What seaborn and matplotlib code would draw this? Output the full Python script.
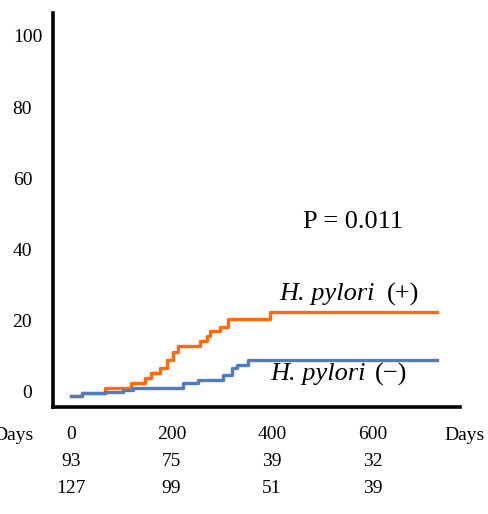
import matplotlib
matplotlib.use("Agg")
import matplotlib.pyplot as plt
import seaborn as sns
import pandas as pd

# cumulative incidence (%) step curves
pos_days = [0, 21, 67, 120, 147, 160, 177, 190, 203, 213, 257, 270, 277, 297, 312, 396, 728]
pos_pct = [-1.3, -0.5, 1.0, 2.3, 3.6, 5.0, 6.4, 8.8, 11.1, 12.8, 14.0, 15.5, 17.0, 18.2, 20.3, 22.2, 22.2]

neg_days = [0, 21, 67, 104, 124, 223, 253, 303, 320, 330, 352, 728]
neg_pct = [-1.3, -0.5, -0.2, 0.3, 0.8, 2.2, 3.1, 4.5, 6.5, 7.3, 8.9, 8.9]

x_ticks = [0, 200, 400, 600]
y_ticks = [0, 20, 40, 60, 80, 100]
at_risk_pos = [93, 75, 39, 32]
at_risk_neg = [127, 99, 51, 39]

df = pd.concat([
    pd.DataFrame({"day": pos_days, "pct": pos_pct, "group": "pos"}),
    pd.DataFrame({"day": neg_days, "pct": neg_pct, "group": "neg"}),
])

plt.rcParams["font.family"] = ["Liberation Serif", "DejaVu Serif"]

fig = plt.figure(figsize=(4.89, 5.14), dpi=100)
ax = fig.add_axes([0.1084, 0.2082, 0.8323, 0.7665])

sns.lineplot(data=df, x="day", y="pct", hue="group",
    palette={"pos": "#FF6A0D", "neg": "#4F7BC4"},
    drawstyle="steps-post", estimator=None, sort=False,
    linewidth=2.4, legend=False, ax=ax)

ax.set_xlim(-36, 774)
ax.set_ylim(-4.5, 106.8)
ax.set_xticks(x_ticks)
ax.set_yticks(y_ticks)
ax.set_xticklabels([str(v) for v in x_ticks], fontsize=14)
# the top label sits a little off the others, drawn separately below
ax.set_yticklabels([str(v) for v in y_ticks[:-1]] + [""], fontsize=14)
ax.tick_params(axis="x", length=0, pad=14)
ax.tick_params(axis="y", length=0, pad=15)
ax.set_xlabel("")
ax.set_ylabel("")

for side in ["top", "right"]:
    ax.spines[side].set_visible(False)
for side in ["left", "bottom"]:
    ax.spines[side].set_linewidth(2.6)
    ax.spines[side].set_color("black")

fig.text(28 / 489, 1 - 38 / 514, str(y_ticks[-1]), fontsize=14, ha="center", va="center")

ax.text(561, 47.8, "P = 0.011", fontsize=19, ha="center", va="center")
ax.text(605, 27.4, "H. pylori", fontsize=19, style="italic", ha="right", va="center")
ax.text(629, 27.4, "(+)", fontsize=19, ha="left", va="center")
ax.text(586, 4.7, "H. pylori", fontsize=19, style="italic", ha="right", va="center")
ax.text(604, 4.7, "(\u2212)", fontsize=19, ha="left", va="center")

# "Days" labels on both ends of the x tick row
fig.text(14 / 489, 1 - 435 / 514, "Days", fontsize=14, ha="center", va="center")
fig.text(465 / 489, 1 - 435 / 514, "Days", fontsize=14, ha="center", va="center")

# numbers at risk below the axis
trans = ax.get_xaxis_transform()
for x, a, b in zip(x_ticks, at_risk_pos, at_risk_neg):
    ax.text(x, -(462 - 407) / 394, str(a), transform=trans, fontsize=14,
        ha="center", va="center", clip_on=False)
    ax.text(x, -(489 - 407) / 394, str(b), transform=trans, fontsize=14,
        ha="center", va="center", clip_on=False)

fig.savefig("out.png", dpi=100)
